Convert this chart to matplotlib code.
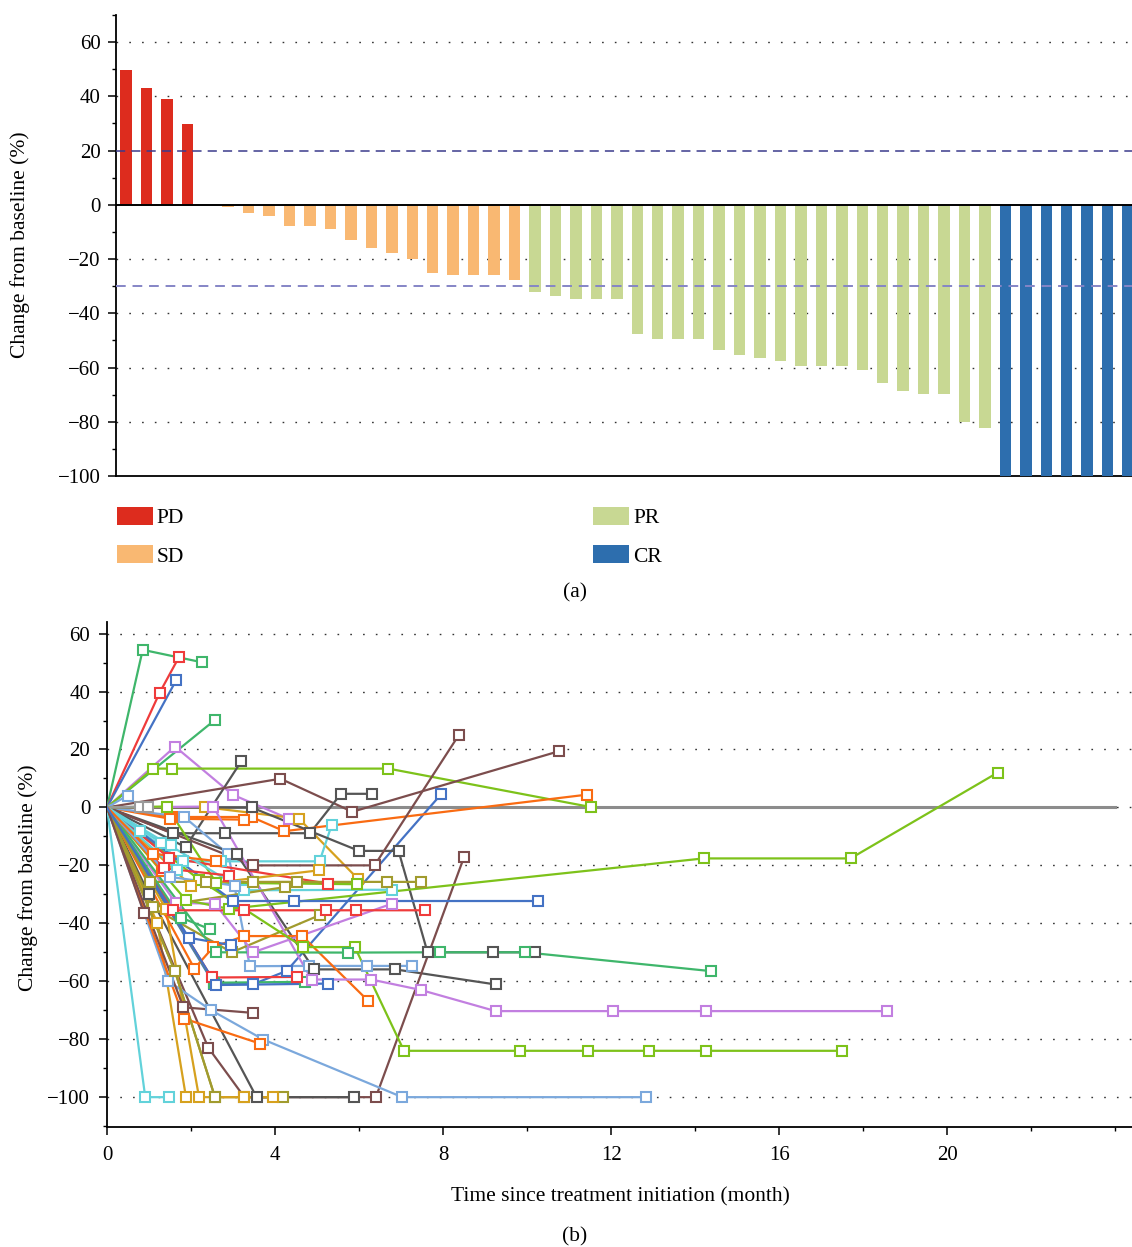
import matplotlib
matplotlib.use("Agg")
import matplotlib.pyplot as plt
from matplotlib.ticker import MultipleLocator
from matplotlib.patches import Patch

plt.rcParams['font.family'] = ['Liberation Serif', 'DejaVu Serif']
plt.rcParams['font.size'] = 15

# ---------------- Panel (a): waterfall data ----------------
pd_vals = [49.6, 43.0, 39.0, 29.9]
sd_vals = [0.0, -0.8, -2.9, -4.1, -7.8, -7.8, -8.9, -12.9, -15.9, -17.7, -19.9,
           -25.0, -25.7, -25.7, -25.7, -27.9]
pr_vals = [-32.0, -33.8, -34.9, -34.9, -34.9, -47.7, -49.5, -49.5, -49.5, -53.5,
           -55.4, -56.5, -57.6, -59.4, -59.4, -59.4, -60.9, -65.6, -68.5, -69.6,
           -69.6, -80.2, -82.4]
cr_vals = [-100.0] * 7
response_labels = ['PD', 'SD', 'PR', 'CR']
response_colors = ['#DD2C1E', '#F9B872', '#C8D893', '#2D6EAE']
ref_lines = [20, -30]

# ---------------- Panel (b): spider plot data ----------------
palette = {
    'green': '#3FB66B', 'red': '#EF3B3B', 'blue': '#4472C4', 'purple': '#C27FE0',
    'lime': '#7DC21A', 'dgray': '#555555', 'brown': '#7C4D4D', 'orange': '#F96B12',
    'gold': '#D6A11E', 'olive': '#A19B2E', 'cyan': '#62D2DA', 'lblue': '#7BA8DC',
    'gray': '#9A9A9A',
}
line_colors = ['green', 'red', 'blue', 'green', 'purple', 'lime', 'dgray', 'brown',
               'dgray', 'blue', 'orange', 'orange', 'gold', 'lblue', 'lblue', 'cyan',
               'dgray', 'dgray', 'brown', 'olive', 'brown', 'dgray', 'olive', 'gold',
               'gold', 'cyan', 'lblue', 'orange', 'orange', 'brown', 'green', 'red',
               'blue', 'purple', 'purple', 'lime', 'lime', 'lime', 'green', 'red',
               'red', 'blue', 'cyan', 'olive', 'olive', 'olive', 'gold', 'cyan',
               'cyan', 'cyan', 'gray', 'brown', 'orange',
               'red', 'lblue', 'green', 'orange', 'blue']
months = [
    [0, 0.85, 2.26], [0, 1.25, 1.71], [0, 1.65], [0, 2.57],
    [0, 1.62, 2.99, 4.33], [0, 1.10, 1.54, 6.70, 11.53], [0, 1.87, 3.20],
    [0, 4.13, 5.84, 10.76], [0, 1.56, 2.80, 4.83, 5.57, 6.30],
    [0, 2.55, 3.48, 4.28, 7.95], [0, 1.54, 3.44, 4.22, 11.42], [0, 1.50, 3.26],
    [0, 2.33, 4.57, 5.97], [0, 0.49], [0, 1.84, 2.89, 3.40, 4.81, 6.20, 7.25],
    [0, 1.80, 2.71, 5.06, 5.35], [0, 3.44, 6.00, 6.94, 7.63, 9.20, 10.20],
    [0, 3.09, 4.93, 6.86, 9.25], [0, 3.48, 6.37, 8.38],
    [0, 1.62, 2.57, 4.20], [0, 2.41, 3.27, 6.40, 8.50], [0, 1.00, 3.56, 5.87],
    [0, 1.06, 2.97, 5.06], [0, 1.20, 1.88], [0, 1.40, 2.19, 3.26, 3.96],
    [0, 0.91, 1.47], [0, 1.46, 2.48, 3.72, 7.03, 12.83], [0, 1.84, 3.64],
    [0, 2.08, 2.53, 3.26, 4.65, 6.22], [0, 1.82, 3.47], [0, 2.55, 4.71],
    [0, 2.49, 4.52], [0, 2.60, 5.27], [0, 1.64, 2.57, 3.48, 6.79],
    [0, 2.53, 4.87, 6.29, 7.47, 9.25, 12.05, 14.26, 18.57],
    [0, 1.88, 2.90, 14.20, 17.70, 21.20],
    [0, 2.20, 4.67, 5.90, 7.07, 9.83, 11.46, 12.91, 14.26, 17.50],
    [0, 1.42, 2.60, 5.94], [0, 2.60, 5.73, 7.93, 9.95, 14.38],
    [0, 1.58, 3.25, 5.21, 5.93, 7.57], [0, 1.48, 5.27], [0, 3.00, 4.46, 10.25],
    [0, 3.26, 6.78], [0, 1.02, 2.36, 3.47, 4.52, 6.67, 7.47], [0, 1.09, 4.24],
    [0, 1.62, 2.57], [0, 2.00, 5.05], [0, 1.29, 1.52], [0, 0.79], [0, 1.66],
    [0, 0.79, 0.98], [0, 0.88], [0, 1.32],
    [0, 1.35, 2.90], [0, 1.50, 3.05], [0, 1.75, 2.45], [0, 1.10, 2.60], [0, 1.95, 2.95],
]
changes = [
    [0, 54.4, 50.1], [0, 39.5, 51.8], [0, 44.0], [0, 30.2],
    [0, 21.0, 4.4, -3.9], [0, 13.4, 13.4, 13.4, 0.1], [0, -13.7, 16.0],
    [0, 9.9, -1.5, 19.4], [0, -8.9, -8.9, -8.9, 4.7, 4.7],
    [0, -61.0, -61.0, -56.4, 4.5], [0, -3.3, -3.3, -8.2, 4.4], [0, -3.9, -4.2],
    [0, 0.1, -3.9, -24.6], [0, 4.1], [0, -3.3, -16.2, -54.8, -54.7, -54.7, -54.7],
    [0, -18.6, -18.6, -18.6, -6.0], [0, 0.0, -15.0, -15.0, -50.0, -50.0, -50.0],
    [0, -16.2, -55.9, -55.9, -61.1], [0, -20.0, -20.0, 25.1],
    [0, -56.6, -100.0, -100.0], [0, -82.9, -100.0, -100.0, -17.1],
    [0, -30.0, -100.0, -100.0],
    [0, -34.4, -50.0, -37.2], [0, -40.0, -100.0], [0, -35.0, -100.0, -100.0, -100.0],
    [0, -100.0, -100.0], [0, -60.0, -70.0, -80.1, -100.0, -100.0], [0, -72.9, -81.5],
    [0, -55.6, -48.2, -44.4, -44.4, -66.8], [0, -69.0, -70.9], [0, -60.5, -60.2],
    [0, -58.7, -58.5], [0, -61.3, -60.8], [0, -33.0, -33.2, -50.0, -33.2],
    [0, 0.3, -59.4, -59.4, -63.0, -70.3, -70.3, -70.3, -70.3],
    [0, -32.0, -35.0, -17.6, -17.6, 12.0],
    [0, -25.0, -48.2, -48.2, -84.0, -84.0, -84.0, -84.0, -84.0, -84.0],
    [0, 0.3, -26.0, -26.5], [0, -50.0, -50.1, -50.0, -50.0, -56.5],
    [0, -35.5, -35.5, -35.5, -35.5, -35.5], [0, -17.4, -26.3], [0, -32.3, -32.3, -32.3],
    [0, -28.6, -28.4], [0, -25.7, -25.7, -25.7, -25.7, -25.7, -25.7], [0, -34.4, -27.5],
    [0, -56.6, -100.0], [0, -27.0, -21.7], [0, -12.2, -13.1], [0, -8.2], [0, -21.5],
    [0, 0.3, 0.3], [0, -36.4], [0, -22.0],
    [0, -21.0, -23.5], [0, -24.0, -27.0], [0, -38.0, -42.0], [0, -16.0, -18.5],
    [0, -45.0, -47.5],
]

# ---------------- Figure ----------------
W, H = 1132, 1247
fig = plt.figure(figsize=(W / 100, H / 100), dpi=100)

def fx(px):
    return px / W

def fy(py):
    return 1 - py / H

LABEL_FS = 15.5
TICK_FS = 15

# ---------- Panel (a) ----------
axa = fig.add_axes([fx(115.7), fy(476), fx(1132) - fx(115.7), fy(15) - fy(476)])
groups = [pd_vals, sd_vals, pr_vals, cr_vals]
handles = []
start = 0
for vals, lab, col in zip(groups, response_labels, response_colors):
    xs = list(range(start, start + len(vals)))
    axa.bar(xs, vals, width=0.56, color=col, zorder=3)
    handles.append(Patch(facecolor=col, edgecolor='none', label=lab))
    start += len(vals)

axa.set_xlim(-0.5, 49.19)
axa.set_ylim(-100, 70)
axa.axhline(0, color='black', lw=1.4, zorder=4)
axa.axhline(ref_lines[0], color='#3A3A8C', lw=1.1, ls=(0, (6, 4)), zorder=5)
axa.axhline(ref_lines[1], color='#8585C6', lw=1.4, ls=(0, (5, 3.5)), zorder=5)
for yv in [60, 40, -20, -40, -60, -80]:
    axa.axhline(yv, color='#333333', lw=1.0, ls=(0, (1.2, 8)), zorder=1)
axa.yaxis.set_major_locator(MultipleLocator(20))
axa.yaxis.set_minor_locator(MultipleLocator(10))
axa.set_xticks([])
for s in ['top', 'right']:
    axa.spines[s].set_visible(False)
for s in ['left', 'bottom']:
    axa.spines[s].set_linewidth(1.3)
axa.tick_params(axis='y', which='major', length=6, width=1.1, pad=5, labelsize=TICK_FS)
axa.tick_params(axis='y', which='minor', length=3, width=1.0)

fig.text(fx(20), fy(245), 'Change from baseline (%)', rotation=90,
         ha='center', va='center', fontsize=LABEL_FS)

fig.legend(handles=handles, ncol=2, loc='upper left',
           bbox_to_anchor=(fx(117), fy(507)), frameon=False, fontsize=LABEL_FS,
           handlelength=1.67, handleheight=0.9, handletextpad=0.18,
           columnspacing=19.0, labelspacing=0.78, borderpad=0, borderaxespad=0)
fig.text(fx(575), fy(593), '(a)', ha='center', va='center', fontsize=LABEL_FS)

# ---------- Panel (b) ----------
axb = fig.add_axes([fx(107), fy(1127), fx(1132) - fx(107), fy(622) - fy(1127)])
axb.set_xlim(0, 24.4)
axb.set_ylim(-110.3, 64)
for yv in [60, 40, 20, 0, -20, -40, -60, -80, -100]:
    axb.axhline(yv, color='#333333', lw=1.0, ls=(0, (1.2, 8)), zorder=1)
axb.plot([0, 24.0], [0, 0], color='#8C8C8C', lw=2.2, zorder=2)
for t, v, c in zip(months, changes, line_colors):
    col = palette[c]
    axb.plot(t[1:], v[1:], ls='none', marker='s', ms=7.8, mfc='white', mec=col,
             mew=1.5, zorder=4)
    axb.plot(t, v, color=col, lw=1.6, zorder=3)

axb.set_xticks([0, 4, 8, 12, 16, 20])
axb.xaxis.set_minor_locator(MultipleLocator(2))
axb.yaxis.set_major_locator(MultipleLocator(20))
axb.yaxis.set_minor_locator(MultipleLocator(10))
for s in ['top', 'right']:
    axb.spines[s].set_visible(False)
for s in ['left', 'bottom']:
    axb.spines[s].set_linewidth(1.3)
axb.tick_params(which='major', length=6, width=1.1, labelsize=TICK_FS)
axb.tick_params(axis='x', which='major', pad=8)
axb.tick_params(axis='y', which='major', pad=6)
axb.tick_params(which='minor', length=3, width=1.0)

fig.text(fx(28), fy(878), 'Change from baseline (%)', rotation=90,
         ha='center', va='center', fontsize=LABEL_FS)
fig.text(fx(620), fy(1197), 'Time since treatment initiation (month)',
         ha='center', va='center', fontsize=LABEL_FS)
fig.text(fx(575), fy(1237), '(b)', ha='center', va='center', fontsize=LABEL_FS)

fig.savefig('out.png', dpi=100)
